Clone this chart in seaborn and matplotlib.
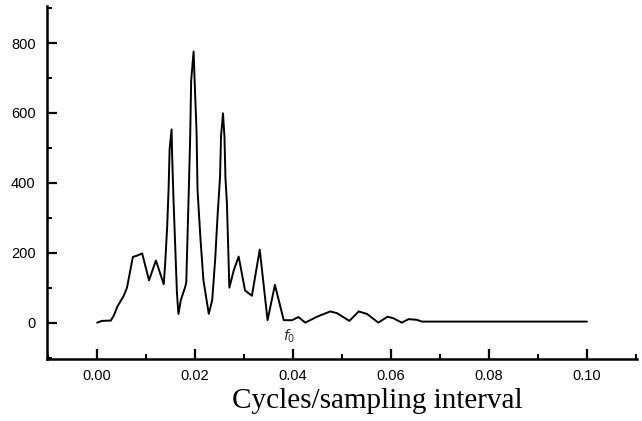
import numpy as np
import pandas as pd
import seaborn as sns
import matplotlib.pyplot as plt
from matplotlib.ticker import MultipleLocator

# spectrum
freq = [0.0000, 0.0010, 0.0028, 0.0034, 0.0041, 0.0054, 0.0061, 0.0073, 0.0082, 0.0092,
        0.0106, 0.0120, 0.0136, 0.0139, 0.0143, 0.0146, 0.0148, 0.0152, 0.0153, 0.0156,
        0.0163, 0.0166, 0.0171, 0.0180, 0.0182, 0.0187, 0.0190, 0.0192, 0.0197, 0.0199,
        0.0203, 0.0205, 0.0211, 0.0217, 0.0224, 0.0228, 0.0235, 0.0241, 0.0246, 0.0251,
        0.0253, 0.0257, 0.0260, 0.0262, 0.0265, 0.0270, 0.0279, 0.0289, 0.0302, 0.0316,
        0.0332, 0.0348, 0.0363, 0.0381, 0.0398, 0.0411, 0.0425, 0.0449, 0.0476, 0.0490,
        0.0515, 0.0534, 0.0551, 0.0574, 0.0593, 0.0604, 0.0622, 0.0636, 0.0653, 0.0663,
        0.1000]
power = [0, 5, 6, 20, 45, 76, 100, 188, 192, 198,
         121, 178, 110, 170, 274, 386, 496, 553, 486, 350,
         84, 25, 65, 103, 115, 370, 531, 693, 776, 695,
         547, 380, 240, 122, 60, 25, 65, 180, 308, 418,
         534, 599, 531, 414, 342, 100, 150, 189, 92, 77,
         209, 7, 108, 7, 7, 16, 0, 17, 32, 27,
         5, 32, 25, 0, 17, 13, 0, 10, 8, 3,
         3]

df = pd.DataFrame({"freq": freq, "power": power})

sns.set_style("ticks")
plt.rcParams['font.family'] = ['Liberation Sans', 'DejaVu Sans']

fig = plt.figure(figsize=(6.42, 4.21), dpi=100)
ax = fig.add_axes([0.0727, 0.1473, 0.9193, 0.8384])

sns.lineplot(data=df, x="freq", y="power", color="black", linewidth=1.4,
             sort=False, estimator=None, ax=ax)

ax.set_xlim(-0.0103, 0.1102)
ax.set_ylim(-104, 906)
ax.xaxis.set_major_locator(MultipleLocator(0.02))
ax.xaxis.set_minor_locator(MultipleLocator(0.01))
ax.yaxis.set_major_locator(MultipleLocator(200))
ax.yaxis.set_minor_locator(MultipleLocator(100))
ax.xaxis.set_major_formatter(lambda v, p: "%.2f" % v)

ax.tick_params(which="major", direction="in", length=7, width=1.6, labelsize=10.5,
               pad=7, color="black", labelcolor="black")
ax.tick_params(which="minor", direction="in", length=3.5, width=1.4, color="black")
ax.tick_params(axis="y", pad=8)

sns.despine(ax=ax)
for side in ["left", "bottom"]:
    ax.spines[side].set_linewidth(1.8)
    ax.spines[side].set_color("black")

ax.set_ylabel("")
ax.set_xlabel("Cycles/sampling interval", fontsize=21, family="Liberation Serif",
              color="black")
ax.xaxis.set_label_coords(0.56, -0.083)

ax.text(0.0393, -40, "$f_0$", fontsize=10, ha="center", va="center")

fig.savefig("out.png", dpi=100)
